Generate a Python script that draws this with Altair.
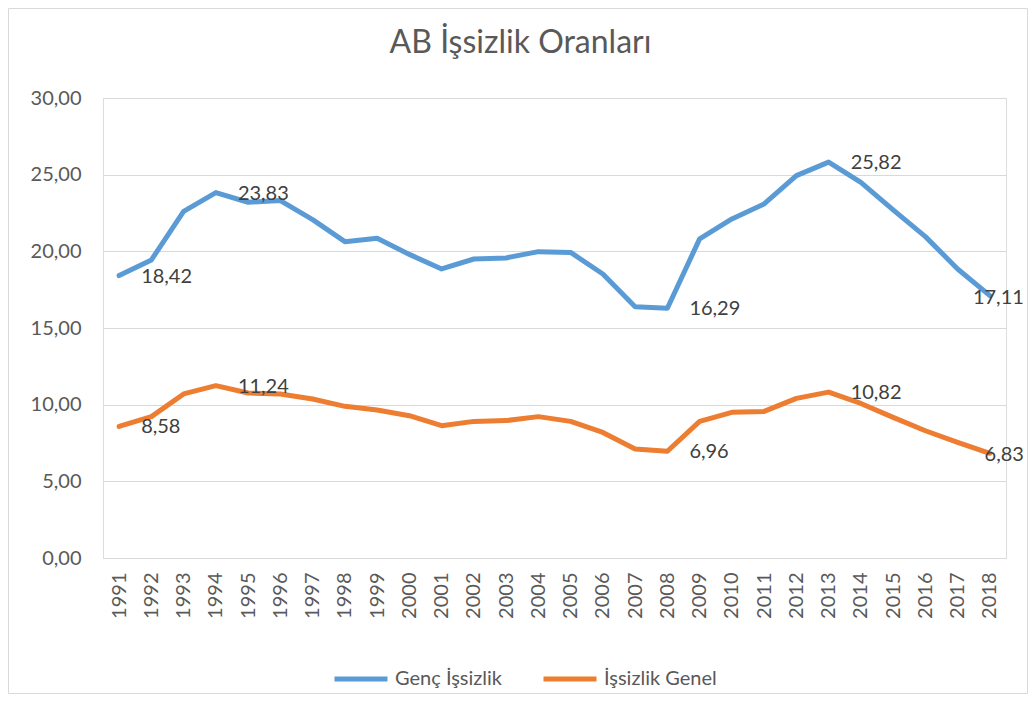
import altair as alt
import pandas as pd

years = list(range(1991, 2019))
genc = [18.42, 19.44, 22.61, 23.83, 23.20, 23.31, 22.07, 20.63, 20.85, 19.80,
        18.85, 19.50, 19.57, 19.98, 19.93, 18.52, 16.39, 16.29, 20.81, 22.11,
        23.09, 24.94, 25.82, 24.50, 22.70, 20.96, 18.85, 17.11]
genel = [8.58, 9.22, 10.70, 11.24, 10.76, 10.70, 10.37, 9.89, 9.65, 9.28,
         8.63, 8.91, 8.96, 9.22, 8.91, 8.19, 7.11, 6.96, 8.91, 9.50,
         9.56, 10.41, 10.82, 10.08, 9.17, 8.30, 7.54, 6.83]
series_names = ["Genç İşsizlik", "İşsizlik Genel"]
series_colors = ["#5B9BD5", "#ED7D31"]
label_years = [1991, 1994, 2008, 2013, 2018]
title_text = "AB İşsizlik Oranları"

rows = []
for name, vals in zip(series_names, [genc, genel]):
    for y, v in zip(years, vals):
        rows.append({"Yıl": str(y), "Seri": name, "Değer": v,
                     "etiket": y in label_years, "son": y == years[-1]})
df = pd.DataFrame(rows)

W, H = 903, 460
PL, PT, PR, PB = 95, 90, 22, 136
FONT = "Lato"
FS = 20

base = alt.Chart(df)

x_enc = alt.X("Yıl:O", title=None,
              scale=alt.Scale(type="point", padding=0.5),
              axis=alt.Axis(labelAngle=270, labelFontSize=FS, labelColor="#595959",
                            labelFont=FONT, ticks=False, domainColor="#D9D9D9",
                            domainWidth=1, labelPadding=14, grid=False))
y_enc = alt.Y("Değer:Q", title=None,
              scale=alt.Scale(domain=[0, 30], nice=False),
              axis=alt.Axis(values=[0, 5, 10, 15, 20, 25, 30], labelFontSize=FS,
                            labelColor="#595959", labelFont=FONT, ticks=False,
                            domain=False, gridColor="#D9D9D9", gridWidth=1,
                            labelPadding=22,
                            labelExpr="replace(format(datum.value, '.2f'), '.', ',')"))

lines = base.mark_line(strokeWidth=5, strokeCap="round", strokeJoin="round").encode(
    x=x_enc, y=y_enc,
    color=alt.Color("Seri:N", title=None,
                    scale=alt.Scale(domain=series_names, range=series_colors),
                    legend=alt.Legend(orient="none", legendX=229, legendY=552,
                                      direction="horizontal", symbolType="stroke",
                                      symbolSize=2809, symbolStrokeWidth=5,
                                      labelFontSize=FS, labelColor="#595959",
                                      labelFont=FONT, labelOffset=5,
                                      columnPadding=30, padding=0)),
)

lab_text = "replace(format(datum['Değer'], '.2f'), '.', ',')"

labels = base.transform_filter("datum.etiket && !datum.son").transform_calculate(
    t=lab_text
).mark_text(align="left", baseline="middle", dx=22, dy=1, fontSize=FS,
            font=FONT, color="#404040").encode(x="Yıl:O", y="Değer:Q", text="t:N")

labels_last = base.transform_filter("datum.son").transform_calculate(
    t=lab_text
).mark_text(align="right", baseline="middle", dx=34, dy=2, fontSize=FS,
            font=FONT, color="#404040").encode(x="Yıl:O", y="Değer:Q", text="t:N")

frame_df = pd.DataFrame({"k": [1]})
frame = alt.Chart(frame_df).mark_rect(fill=None, stroke="#D9D9D9", strokeWidth=1).encode(
    x=alt.value(-PL + 0.5), x2=alt.value(W + PR - 0.5),
    y=alt.value(-PT + 0.5), y2=alt.value(H + PB - 0.5),
)

title_df = pd.DataFrame({"t": [title_text]})
title = alt.Chart(title_df).mark_text(fontSize=32, font=FONT, color="#595959",
                                      align="center", baseline="alphabetic").encode(
    x=alt.value(417.5), y=alt.value(-45), text="t:N"
)

chart = alt.layer(frame, lines, labels, labels_last, title).properties(
    width=W, height=H,
    autosize=alt.AutoSizeParams(type="none"),
    padding={"left": PL, "top": PT, "right": PR, "bottom": PB},
).configure_view(stroke=None).configure(background="white")

chart.save("out.html", embed_options={"renderer": "svg", "actions": False})
